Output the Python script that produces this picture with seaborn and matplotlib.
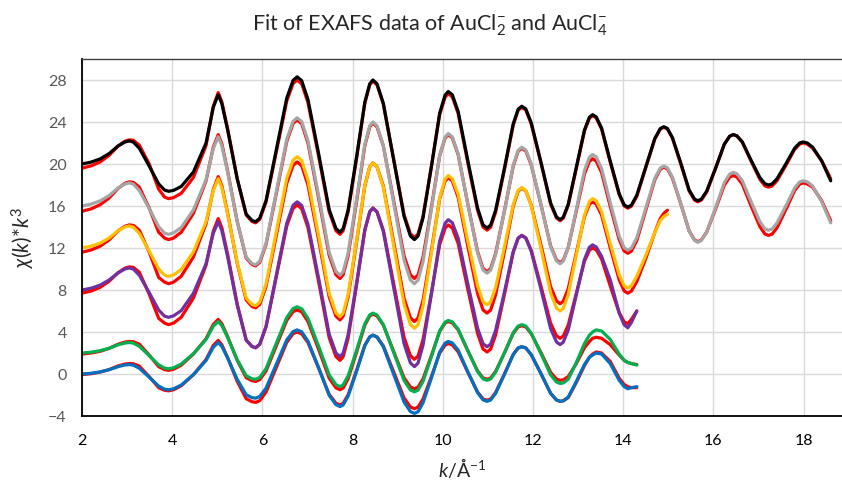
import numpy as np
import pandas as pd
import matplotlib
matplotlib.use("Agg")
import matplotlib.pyplot as plt
from matplotlib.ticker import MultipleLocator
import seaborn as sns

# k grid (1/Å) shared by all traces
K = [2.0, 2.2, 2.4, 2.6, 2.8, 2.95,
     3.05, 3.14, 3.27, 3.49, 3.70, 3.83,
     3.92, 4.03, 4.2, 4.47, 4.75, 4.91,
     5.02, 5.10, 5.23, 5.44, 5.64, 5.77,
     5.85, 5.94, 6.08, 6.31, 6.54, 6.68,
     6.77, 6.87, 7.01, 7.25, 7.48, 7.63,
     7.72, 7.79, 7.9, 8.09, 8.27, 8.38,
     8.45, 8.54, 8.68, 8.91, 9.14, 9.28,
     9.37, 9.45, 9.56, 9.75, 9.93, 10.05,
     10.12, 10.21, 10.34, 10.55, 10.77, 10.89,
     10.98, 11.06, 11.17, 11.37, 11.56, 11.67,
     11.75, 11.84, 11.96, 12.18, 12.39, 12.52,
     12.6, 12.67, 12.78, 12.96, 13.14, 13.25,
     13.32, 13.4, 13.52, 13.71, 13.91, 14.02,
     14.1, 14.18, 14.3, 14.5, 14.7, 14.82,
     14.9, 14.98, 15.09, 15.28, 15.46, 15.58,
     15.65, 15.73, 15.85, 16.05, 16.24, 16.36,
     16.44, 16.52, 16.64, 16.83, 17.03, 17.14,
     17.22, 17.3, 17.41, 17.61, 17.8, 17.91,
     17.99, 18.08, 18.2, 18.4, 18.6]

# measured chi(k)*k^3 (offset)
black_data = [20.0, 20.18, 20.48, 20.99, 21.72, 22.09,
              22.2, 22.08, 21.5, 19.8, 18.1, 17.52,
              17.4, 17.49, 17.86, 19.24, 22.0, 25.4,
              26.6, 25.75, 23.21, 18.61, 15.23, 14.62,
              14.5, 14.83, 16.51, 21.4, 26.29, 27.97,
              28.3, 27.94, 26.14, 20.9, 15.66, 13.86,
              13.5, 13.85, 15.62, 20.75, 25.88, 27.65,
              28.0, 27.64, 25.78, 20.4, 15.02, 13.16,
              12.8, 13.14, 14.86, 19.85, 24.84, 26.56,
              26.9, 26.59, 25.0, 20.4, 15.8, 14.21,
              13.9, 14.18, 15.59, 19.7, 23.81, 25.22,
              25.5, 25.24, 23.92, 20.1, 16.28, 14.96,
              14.7, 14.94, 16.16, 19.7, 23.24, 24.46,
              24.7, 24.49, 23.42, 20.3, 17.18, 16.11,
              15.9, 16.08, 17.02, 19.73, 22.43, 23.37,
              23.55, 23.38, 22.52, 20.03, 17.53, 16.67,
              16.5, 16.65, 17.42, 19.65, 21.88, 22.65,
              22.8, 22.68, 22.1, 20.4, 18.7, 18.12,
              18.0, 18.1, 18.6, 20.05, 21.5, 22.0,
              22.1, 22.0, 21.6, 20.3, 18.4]
grey_data = [16.0, 16.18, 16.48, 16.99, 17.72, 18.09,
             18.2, 18.08, 17.48, 15.75, 14.02, 13.42,
             13.3, 13.44, 13.95, 15.63, 18.51, 21.48,
             22.6, 21.75, 19.18, 14.55, 11.13, 10.52,
             10.4, 10.74, 12.44, 17.4, 22.36, 24.06,
             24.4, 24.04, 22.21, 16.9, 11.59, 9.76,
             9.4, 9.75, 11.53, 16.7, 21.87, 23.65,
             24.0, 23.63, 21.75, 16.3, 10.85, 8.97,
             8.6, 8.94, 10.69, 15.75, 20.81, 22.56,
             22.9, 22.58, 20.96, 16.25, 11.54, 9.92,
             9.6, 9.89, 11.35, 15.6, 19.85, 21.31,
             21.6, 21.33, 19.98, 16.05, 12.12, 10.77,
             10.5, 10.75, 12.02, 15.7, 19.38, 20.65,
             20.9, 20.68, 19.57, 16.35, 13.13, 12.02,
             11.8, 11.99, 12.97, 15.8, 18.63, 19.61,
             19.8, 19.63, 18.74, 16.18, 13.61, 12.72,
             12.55, 12.71, 13.52, 15.88, 18.23, 19.04,
             19.2, 19.07, 18.4, 16.45, 14.5, 13.83,
             13.7, 13.81, 14.39, 16.05, 17.71, 18.29,
             18.4, 18.3, 17.9, 16.4, 14.4]
yellow_data = [12.0, 12.17, 12.46, 12.95, 13.64, 14.0,
               14.1, 13.98, 13.4, 11.7, 10.0, 9.42,
               9.3, 9.44, 9.95, 11.63, 14.51, 17.48,
               18.6, 17.75, 15.21, 10.61, 7.23, 6.62,
               6.5, 6.84, 8.57, 13.6, 18.63, 20.36,
               20.7, 20.33, 18.47, 13.08, 7.68, 5.82,
               5.45, 5.8, 7.59, 12.78, 17.96, 19.75,
               20.1, 19.72, 17.8, 12.23, 6.65, 4.73,
               4.35, 4.7, 6.47, 11.63, 16.78, 18.55,
               18.9, 18.6, 17.1, 12.75, 8.4, 6.9,
               6.6, 6.87, 8.23, 12.18, 16.12, 17.48,
               17.75, 17.47, 16.03, 11.88, 7.72, 6.28,
               6.0, 6.26, 7.56, 11.35, 15.14, 16.44,
               16.7, 16.5, 15.46, 12.45, 9.44, 8.4,
               8.2, 8.4, 9.3, 11.3, 13.5, 14.6,
               15.0, 15.2]
purple_data = [8.0, 8.17, 8.46, 8.95, 9.64, 10.0,
               10.1, 9.99, 9.41, 7.75, 6.09, 5.51,
               5.4, 5.54, 6.04, 7.68, 10.5, 13.41,
               14.5, 13.66, 11.14, 6.58, 3.22, 2.62,
               2.5, 2.83, 4.53, 9.45, 14.37, 16.07,
               16.4, 16.05, 14.25, 9.03, 3.8, 2.0,
               1.65, 1.99, 3.72, 8.73, 13.73, 15.46,
               15.8, 15.44, 13.6, 8.25, 2.9, 1.06,
               0.7, 1.04, 2.74, 7.7, 12.66, 14.36,
               14.7, 14.41, 12.93, 8.65, 4.37, 2.89,
               2.6, 2.85, 4.15, 7.9, 11.65, 12.95,
               13.2, 12.95, 11.68, 8.0, 4.32, 3.05,
               2.8, 3.03, 4.19, 7.55, 10.91, 12.07,
               12.3, 12.1, 11.2, 9.0, 5.8, 4.7,
               4.4, 4.9, 6.0]
green_data = [2.0, 2.08, 2.22, 2.45, 2.78, 2.95,
              3.0, 2.94, 2.64, 1.75, 0.87, 0.56,
              0.5, 0.59, 0.95, 1.94, 3.29, 4.55,
              5.0, 4.62, 3.46, 1.37, -0.17, -0.45,
              -0.5, -0.33, 0.51, 2.95, 5.39, 6.23,
              6.4, 6.22, 5.29, 2.6, -0.09, -1.02,
              -1.2, -1.03, -0.18, 2.3, 4.78, 5.63,
              5.8, 5.62, 4.7, 2.05, -0.61, -1.52,
              -1.7, -1.54, -0.71, 1.7, 4.11, 4.94,
              5.1, 4.96, 4.27, 2.25, 0.23, -0.46,
              -0.6, -0.47, 0.17, 2.05, 3.93, 4.57,
              4.7, 4.57, 3.88, 1.9, -0.08, -0.76,
              -0.9, -0.85, -0.5, 1.1, 2.9, 3.7,
              4.0, 4.2, 4.1, 3.3, 1.9, 1.3,
              1.1, 1.0, 0.85]
blue_data = [0.0, 0.07, 0.2, 0.41, 0.7, 0.86,
             0.9, 0.84, 0.55, -0.3, -1.15, -1.44,
             -1.5, -1.41, -1.05, -0.06, 1.29, 2.55,
             3.0, 2.63, 1.52, -0.5, -1.98, -2.25,
             -2.3, -2.14, -1.35, 0.95, 3.25, 4.04,
             4.2, 4.02, 3.13, 0.55, -2.03, -2.92,
             -3.1, -2.94, -2.11, 0.3, 2.71, 3.54,
             3.7, 3.52, 2.61, -0.03, -2.66, -3.57,
             -3.75, -3.59, -2.75, -0.33, 2.1, 2.94,
             3.1, 2.96, 2.27, 0.25, -1.77, -2.46,
             -2.6, -2.48, -1.84, 0.0, 1.84, 2.48,
             2.6, 2.48, 1.84, 0.0, -1.84, -2.48,
             -2.6, -2.55, -2.2, -0.7, 0.9, 1.6,
             1.8, 2.0, 1.9, 1.0, -0.6, -1.2,
             -1.4, -1.3, -1.2]

# fitted curves (red)
black_fit = [19.6, 19.82, 20.19, 20.82, 21.71, 22.17,
             22.3, 22.25, 21.8, 20.0, 17.6, 16.85,
             16.7, 16.8, 17.21, 18.72, 21.75, 25.49,
             26.8, 25.93, 23.33, 18.62, 15.14, 14.52,
             14.4, 14.73, 16.39, 21.2, 26.01, 27.67,
             28.0, 27.65, 25.85, 20.65, 15.45, 13.65,
             13.3, 13.65, 15.43, 20.6, 25.77, 27.55,
             27.9, 27.54, 25.72, 20.45, 15.18, 13.36,
             13.0, 13.33, 15.0, 19.85, 24.7, 26.37,
             26.7, 26.39, 24.8, 20.2, 15.6, 14.01,
             13.7, 13.98, 15.41, 19.55, 23.69, 25.12,
             25.4, 25.14, 23.82, 20.0, 16.18, 14.86,
             14.6, 14.84, 16.06, 19.6, 23.14, 24.36,
             24.6, 24.39, 23.32, 20.2, 17.08, 16.01,
             15.8, 15.98, 16.92, 19.65, 22.38, 23.32,
             23.5, 23.33, 22.46, 19.95, 17.44, 16.57,
             16.4, 16.55, 17.33, 19.6, 21.87, 22.65,
             22.8, 22.68, 22.07, 20.3, 18.53, 17.92,
             17.8, 17.9, 18.41, 19.9, 21.39, 21.9,
             22.0, 21.9, 21.5, 20.3, 18.6]
grey_fit = [15.5, 15.72, 16.12, 16.76, 17.68, 18.16,
            18.3, 18.25, 17.8, 15.8, 13.5, 12.95,
            12.8, 12.95, 13.5, 15.3, 18.4, 21.6,
            22.8, 21.93, 19.3, 14.55, 11.05, 10.43,
            10.3, 10.63, 12.33, 17.25, 22.17, 23.87,
            24.2, 23.84, 21.99, 16.65, 11.3, 9.46,
            9.1, 9.46, 11.26, 16.5, 21.74, 23.54,
            23.9, 23.54, 21.74, 16.5, 11.26, 9.46,
            9.1, 9.43, 11.1, 15.95, 20.8, 22.47,
            22.8, 22.49, 20.89, 16.28, 11.66, 10.06,
            9.75, 10.03, 11.47, 15.63, 19.78, 21.22,
            21.5, 21.24, 19.91, 16.05, 12.19, 10.86,
            10.6, 10.84, 12.05, 15.55, 19.05, 20.26,
            20.5, 20.28, 19.19, 16.0, 12.81, 11.72,
            11.5, 11.7, 12.7, 15.6, 18.5, 19.5,
            19.7, 19.53, 18.66, 16.15, 13.64, 12.77,
            12.6, 12.75, 13.52, 15.75, 17.98, 18.75,
            18.9, 18.76, 18.07, 16.05, 14.03, 13.34,
            13.2, 13.32, 13.93, 15.7, 17.47, 18.08,
            18.2, 18.1, 17.8, 16.5, 14.6]
yellow_fit = [11.6, 11.81, 12.17, 12.77, 13.63, 14.07,
              14.2, 14.15, 13.7, 11.6, 9.2, 8.75,
              8.6, 8.75, 9.31, 11.15, 14.31, 17.58,
              18.8, 17.93, 15.3, 10.55, 7.05, 6.43,
              6.3, 6.63, 8.33, 13.25, 18.17, 19.87,
              20.2, 19.84, 18.0, 12.68, 7.35, 5.51,
              5.15, 5.51, 7.33, 12.63, 17.92, 19.74,
              20.1, 19.74, 17.9, 12.55, 7.2, 5.36,
              5.0, 5.33, 7.0, 11.85, 16.7, 18.37,
              18.7, 18.39, 16.82, 12.25, 7.68, 6.11,
              5.8, 6.09, 7.54, 11.75, 15.96, 17.41,
              17.7, 17.44, 16.09, 12.2, 8.31, 6.96,
              6.7, 6.93, 8.12, 11.55, 14.98, 16.17,
              16.4, 16.19, 15.13, 12.05, 8.97, 7.91,
              7.7, 7.9, 8.8, 11.0, 13.5, 14.8,
              15.3, 15.6]
purple_fit = [7.7, 7.9, 8.25, 8.83, 9.65, 10.08,
              10.2, 10.15, 9.7, 7.6, 5.3, 4.85,
              4.7, 4.85, 5.41, 7.23, 10.36, 13.59,
              14.8, 13.94, 11.36, 6.68, 3.24, 2.62,
              2.5, 2.83, 4.49, 9.3, 14.11, 15.77,
              16.1, 15.74, 13.94, 8.7, 3.46, 1.66,
              1.3, 1.65, 3.42, 8.55, 13.68, 15.45,
              15.8, 15.45, 13.7, 8.6, 3.5, 1.75,
              1.4, 1.71, 3.27, 7.8, 12.33, 13.89,
              14.2, 13.91, 12.43, 8.15, 3.87, 2.39,
              2.1, 2.37, 3.72, 7.65, 11.58, 12.93,
              13.2, 12.96, 11.77, 8.3, 4.83, 3.64,
              3.4, 3.61, 4.66, 7.7, 10.74, 11.79,
              12.0, 11.83, 10.95, 8.4, 5.85, 4.97,
              4.8, 5.2, 6.0]
green_fit = [1.9, 2.0, 2.16, 2.44, 2.84, 3.04,
             3.1, 3.08, 2.85, 1.8, 0.7, 0.42,
             0.35, 0.45, 0.84, 1.9, 3.36, 4.72,
             5.2, 4.79, 3.55, 1.31, -0.35, -0.64,
             -0.7, -0.54, 0.29, 2.7, 5.11, 5.94,
             6.1, 5.92, 4.99, 2.3, -0.39, -1.32,
             -1.5, -1.33, -0.45, 2.1, 4.65, 5.53,
             5.7, 5.53, 4.66, 2.15, -0.36, -1.23,
             -1.4, -1.25, -0.47, 1.8, 4.07, 4.85,
             5.0, 4.87, 4.2, 2.25, 0.3, -0.37,
             -0.5, -0.38, 0.24, 2.05, 3.86, 4.48,
             4.6, 4.48, 3.84, 2.0, 0.16, -0.48,
             -0.6, -0.55, -0.25, 1.0, 2.5, 3.1,
             3.4, 3.5, 3.4, 2.8, 1.8, 1.3,
             1.1, 1.0, 0.9]
blue_fit = [-0.05, 0.03, 0.18, 0.42, 0.77, 0.95,
            1.0, 0.98, 0.75, -0.25, -1.3, -1.55,
            -1.6, -1.5, -1.12, -0.06, 1.38, 2.72,
            3.2, 2.79, 1.55, -0.69, -2.35, -2.64,
            -2.7, -2.54, -1.72, 0.65, 3.02, 3.84,
            4.0, 3.83, 2.99, 0.53, -1.94, -2.78,
            -2.95, -2.79, -1.98, 0.38, 2.73, 3.54,
            3.7, 3.53, 2.68, 0.2, -2.28, -3.13,
            -3.3, -3.15, -2.39, -0.2, 1.99, 2.75,
            2.9, 2.77, 2.11, 0.2, -1.71, -2.37,
            -2.5, -2.38, -1.76, 0.05, 1.86, 2.48,
            2.6, 2.48, 1.84, 0.0, -1.84, -2.48,
            -2.6, -2.55, -2.25, -0.8, 0.8, 1.6,
            1.9, 2.1, 2.0, 1.2, -0.4, -1.0,
            -1.2, -1.3, -1.3]

series = [
    ("black", black_data, black_fit, "#000000"),
    ("grey", grey_data, grey_fit, "#A5A5A5"),
    ("yellow", yellow_data, yellow_fit, "#FFC000"),
    ("purple", purple_data, purple_fit, "#7030A0"),
    ("green", green_data, green_fit, "#00B050"),
    ("blue", blue_data, blue_fit, "#0070C0"),
]

sns.set_style("white")
plt.rcParams["font.family"] = ["Lato", "DejaVu Sans"]
plt.rcParams["mathtext.fontset"] = "custom"
plt.rcParams["mathtext.rm"] = "Lato"
plt.rcParams["mathtext.it"] = "Lato:italic"

fig = plt.figure(figsize=(8.42, 4.88), dpi=100)
ax = fig.add_axes([0.0974, 0.1475, 0.9026, 0.7316])

# fits underneath, measured data on top
for name, data, fit, col in series:
    sns.lineplot(x=K[:len(fit)], y=fit, ax=ax, color="#FF0000", lw=2.3, sort=False)
for name, data, fit, col in series:
    sns.lineplot(x=K[:len(data)], y=data, ax=ax, color=col, lw=2.3, sort=False)

ax.set_xlim(2, 18.85)
ax.set_ylim(-4, 30)
ax.xaxis.set_major_locator(MultipleLocator(2))
ax.xaxis.set_minor_locator(MultipleLocator(1))
ax.yaxis.set_major_locator(MultipleLocator(4))
ax.yaxis.set_minor_locator(MultipleLocator(1))
ax.grid(True, which="major", color="#D9D9D9", lw=1.0)
ax.set_axisbelow(True)

for s in ["left", "bottom"]:
    ax.spines[s].set_color("black")
    ax.spines[s].set_linewidth(1.3)
ax.spines["top"].set_color("#404040")
ax.spines["top"].set_linewidth(1.0)
ax.spines["right"].set_visible(False)

ax.tick_params(axis="both", which="both", direction="out", length=5, width=1.2, color="black")
ax.tick_params(axis="y", which="major", labelsize=11.5, labelcolor="#595959", pad=6)
ax.tick_params(axis="x", which="major", labelsize=11.5, labelcolor="black", pad=8)

ax.set_xlabel(r"$k$/Å$^{-1}$", fontsize=14, labelpad=6)
ax.set_ylabel(r"$\chi(k)$*$k^3$", fontsize=15, labelpad=8)
fig.suptitle(r"Fit of EXAFS data of AuCl$_2^{-}$ and AuCl$_4^{-}$", fontsize=15.5, y=0.975, x=0.51)

fig.savefig("out.png", dpi=100)
